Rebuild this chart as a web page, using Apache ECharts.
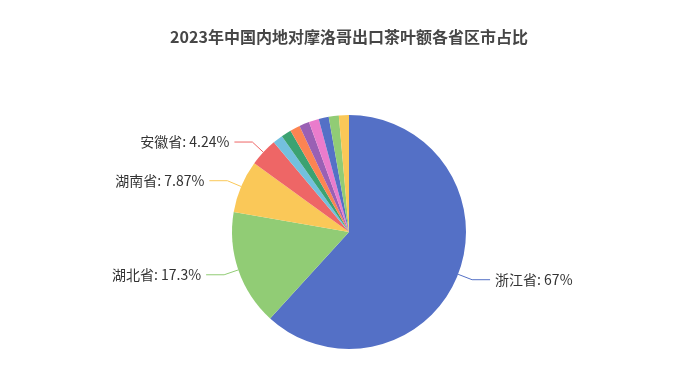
<!DOCTYPE html>
<html>
<head>
<meta charset="utf-8">
<script src="https://cdn.jsdelivr.net/npm/echarts@6/dist/echarts.min.js"></script>
<style>html,body{margin:0;padding:0;background:#fff;}#c{width:698px;height:379px;}</style>
</head>
<body>
<div id="c"></div>
<script>
const titleText = '2023年中国内地对摩洛哥出口茶叶额各省区市占比';
const provinces = ['浙江省', '湖北省', '湖南省', '安徽省', '福建省', '江西省', '云南省', '四川省', '贵州省', '广西壮族自治区', '重庆市', '广东省'];
const shares = [67, 17.3, 7.87, 4.24, 1.0, 0.7, 0.55, 0.4, 0.35, 0.25, 0.2, 0.14];
const palette = ['#5470c6', '#91cc75', '#fac858', '#ee6666', '#73c0de', '#3ba272', '#fc8452', '#9a60b4', '#ea7ccc'];

const chart = echarts.init(document.getElementById('c'));
chart.setOption({
  color: palette,
  title: {
    text: titleText,
    left: 'center',
    top: 24,
    textStyle: { fontFamily: 'Noto Sans CJK SC', fontSize: 16, fontWeight: 'bold', color: '#464646' }
  },
  series: [{
    type: 'pie',
    center: ['50%', 232],
    radius: 117,
    minAngle: 5,
    minShowLabelAngle: 6,
    avoidLabelOverlap: true,
    data: provinces.map((n, i) => ({ name: n, value: shares[i] })),
    label: {
      formatter: '{b}: {d}%',
      fontFamily: 'Noto Sans CJK SC',
      fontSize: 14,
      color: '#333'
    },
    labelLine: { length: 15, length2: 18 }
  }]
});
</script>
</body>
</html>
